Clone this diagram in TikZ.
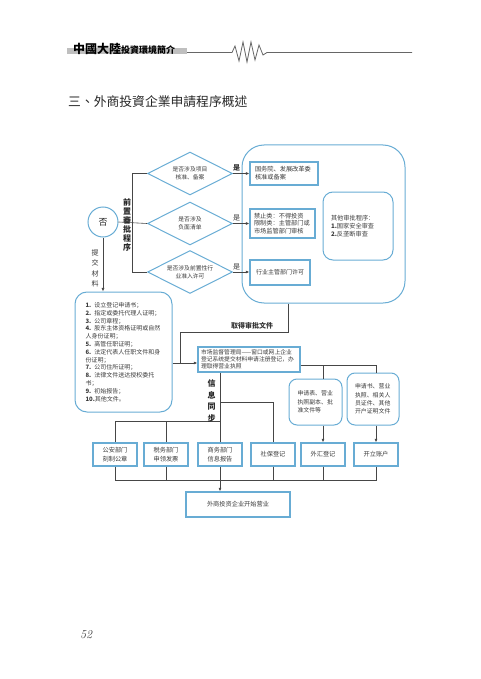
\documentclass[tikz,border=0pt]{standalone}
\usepackage{fontspec}
\newfontfamily\cjk{Noto Sans CJK SC}
\newfontfamily\cjktc{Noto Sans CJK TC}
\usetikzlibrary{shapes.geometric,arrows.meta,calc}
\definecolor{bblue}{RGB}{104,172,212}
\definecolor{lgray}{RGB}{70,70,70}
\definecolor{tgray}{RGB}{58,58,58}
\newcommand{\fs}[2]{\fontsize{#1}{#2}\selectfont}
\begin{document}
\begin{tikzpicture}[x=1pt,y=-1pt,
  every node/.style={inner sep=0pt, text=tgray, font=\cjk},
  conn/.style={draw=lgray, line width=0.6pt},
  arr/.style={conn, -{Latex[length=3.6pt,width=3pt]}},
  bbox/.style={draw=bblue, line width=1.3pt, rectangle, fill=white},
  rbox/.style={draw=bblue, line width=1pt, rectangle, rounded corners=#1},
  dia/.style={diamond, draw=bblue, line width=1pt, aspect=2, minimum width=85pt, minimum height=43pt, align=center, font=\cjk\fs{5.8}{8}},
  rowbox/.style={bbox, minimum width=44pt, minimum height=23pt, align=center, font=\cjk\fs{6.2}{8.5}},
  vtext/.style={align=center, font=\cjk\bfseries\fs{8}{9}, text=black!85},
  yes/.style={font=\cjk\fs{7}{7}, text=black!80}
]
\useasboundingbox (0,0) rectangle (480,679);

% header
\fill[gray!50] (67,48) rectangle (187,54.5);
\node[anchor=west, text=black] (hdr) at (73,48.5) {\cjktc\bfseries\fs{12}{12}中國大陸\fs{9}{9}投資環境簡介};
\draw[gray!80!black, line width=0.8pt] (187,52.5) -- (232,52.5) -- (235,46) -- (239,61) -- (243,42) -- (247,62) -- (251,42) -- (255,60) -- (259,45) -- (263,55) -- (267,52.5) -- (412,52.5);

% title
\node[anchor=west, text=black!85] (title) at (68,102) {\cjktc\fs{12.8}{13}三、外商投資企業申請程序概述};

% top part
\node[circle, draw=bblue, line width=1pt, minimum size=30pt, font=\cjk\fs{9}{9}, text=black!85] (no) at (103,222) {否};
\node[dia] (d1) at (190,173.5) {是否涉及项目\\核准、备案};
\node[dia] (d2) at (190,223.5) {是否涉及\\负面清单};
\node[dia] (d3) at (190,272) {是否涉及前置性行\\业准入许可};

\node[rbox=22, minimum width=163pt, minimum height=158pt] (big) at (323.5,224) {};
\node[bbox, minimum width=68pt, minimum height=23pt, inner xsep=5pt, text width=58pt, align=left, font=\cjk\fs{6.2}{7.8}] (a) at (284,173.5) {国务院、发展改革委\\核准或备案};
\node[bbox, minimum width=65pt, minimum height=29pt, inner xsep=4pt, text width=57pt, align=left, font=\cjk\fs{6.2}{7.8}] (b) at (282.5,223.5) {禁止类：不得投资\\限制类：主管部门或\\市场监管部门审核};
\node[bbox, minimum width=60pt, minimum height=25pt, align=center, font=\cjk\fs{6}{7.8}] (c) at (280,272.5) {行业主管部门许可};
\node[rbox=10, minimum width=70pt, minimum height=68pt, inner xsep=8pt, text width=54pt, align=left, font=\cjk\fs{6.2}{7.8}] (dd) at (358,226) {其他审批程序：\\\textbf{1.}国家安全审查\\\textbf{2.}反垄断审查};

\draw[conn] (no.east) -- (d2.west);
\draw[conn] (d1.west) -- ++(-14.5,0) |- (d3.west);
\node[vtext] (pre) at (127,224.5) {前\\置\\審\\批\\程\\序};

\draw[arr] (d1.east) -- (d1.east -| a.west);
\draw[arr] (d2.east) -- (d2.east -| b.west);
\draw[arr] (d3.east) -- (d3.east -| c.west);
\node[yes, font=\cjk\bfseries\fs{7}{7}] (y1) at (236.5,168) {是};
\node[yes] (y2) at (236.5,218) {是};
\node[yes] (y3) at (236.5,267) {是};

% materials
\node[rbox=12, minimum width=97pt, minimum height=120pt, inner xsep=10.5pt, text width=76pt, align=left, font=\cjk\fs{6}{7.8}] (mat) at (123.5,352) {%
\textbf{1.} 设立登记申请书；\\
\textbf{2.} 指定或委托代理人证明；\\
\textbf{3.} 公司章程；\\
\textbf{4.} 股东主体资格证明或自然\\
人身份证明；\\
\textbf{5.} 高管任职证明；\\
\textbf{6.} 法定代表人任职文件和身\\
份证明；\\
\textbf{7.} 公司住所证明；\\
\textbf{8.} 法律文件送达授权委托\\
书；\\
\textbf{9.} 初始报告；\\
\textbf{10.}其他文件。};
\draw[arr] (no.south) -- (no.south |- mat.north);
\node[align=center, font=\cjk\fs{7}{10.5}, text=black!80] (sub) at (95,268.5) {提\\交\\材\\料};

% market
\node[bbox, minimum width=102pt, minimum height=25pt, inner xsep=3pt, text width=96pt, align=left, font=\cjk\fs{5.8}{7.2}] (mkt) at (249,359.5) {市场监督管理局——窗口或网上企业\\登记系统提交材料申请注册登记，办\\理取得营业执照};
\coordinate (j1) at (288,332);
\coordinate (j2) at (180,363);
\draw[conn] (j1 |- big.south) -- (j1) -| (j2);
\draw[arr] (mat.east |- j2) -- (j2 -| mkt.west);
\node[font=\cjk\bfseries\fs{7}{7}, text=black!80] (lbl) at (252,326) {取得审批文件};

% side rounded boxes
\node[rbox=8, minimum width=53pt, minimum height=46pt, inner xsep=8.5pt, text width=36pt, align=left, font=\cjk\fs{5.9}{8.4}] (e) at (315.5,402) {申请表、营业\\执照副本、批\\准文件等};
\node[rbox=8, minimum width=52pt, minimum height=52pt, inner xsep=8pt, text width=36pt, align=left, font=\cjk\fs{5.9}{8.3}] (f) at (373,399) {申请书、营业\\执照、相关人\\员证件、其他\\开户证明文件};

% row of boxes
\node[rowbox] (b1) at (115,454.5) {公安部门\\刻制公章};
\node[rowbox] (b2) at (166,454.5) {税务部门\\申领发票};
\node[rowbox] (b3) at (220,454.5) {商务部门\\信息报告};
\node[rowbox] (b4) at (273,454.5) {社保登记};
\node[rowbox] (b5) at (323,454.5) {外汇登记};
\node[rowbox] (b6) at (376,454.5) {开立账户};
\node[bbox, minimum width=104pt, minimum height=25pt, font=\cjk\fs{6.2}{8}] (fin) at (238,504.5) {外商投资企业开始营业};

\coordinate (k) at (220,421);
\coordinate (k2) at (220,402);
\draw[conn] (k |- mkt.south) -- (k |- b3.north);
\draw[conn] (k) -| (b1.north);
\draw[conn] (b2.north |- k) -- (b2.north);
\draw[conn] (k2) -| (b4.north);
\node[vtext, font=\cjk\bfseries\fs{8}{11.5}] (sync) at (211.5,401) {信\\息\\同\\步};

\coordinate (m) at (0,365);
\draw[conn] (mkt.east |- m) -- (b6.north |- m) -- (b6.north |- f.north);
\draw[conn] (b5.north |- m) -- (b5.north |- e.north);
\draw[arr] (b5.north |- e.south) -- (b5.north);
\draw[arr] (b6.north |- f.south) -- (b6.north);

\coordinate (bus) at (0,480);
\draw[conn] (b1.south) -- (b1.south |- bus) -- (b6.south |- bus) -- (b6.south);
\draw[conn] (b2.south) -- (b2.south |- bus);
\draw[conn] (b4.south) -- (b4.south |- bus);
\draw[conn] (b5.south) -- (b5.south |- bus);
\draw[arr] (b3.south) -- (b3.south |- fin.north);

% page number
\node[font=\itshape\fs{12}{12}, text=black!80] (pg) at (86,635) {52};
\end{tikzpicture}
\end{document}
